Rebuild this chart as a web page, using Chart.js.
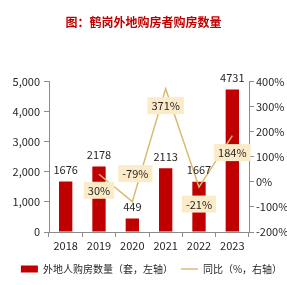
<!DOCTYPE html>
<html><head><meta charset="utf-8">
<script src="https://cdn.jsdelivr.net/npm/chart.js@4/dist/chart.umd.min.js"></script>
<style>html,body{margin:0;padding:0;background:#fff}#wrap{width:287px;height:285px}</style>
</head><body><div id="wrap"><canvas id="c" width="287" height="285"></canvas></div>
<script>
const years = ['2018','2019','2020','2021','2022','2023'];
const buyers = [1676, 2178, 449, 2113, 1667, 4731];
const yoy = [null, 30, -79, 371, -21, 184];
const yoyLabels = [null, '30%', '-79%', '371%', '-21%', '184%'];
const leftTicks = [0, 1000, 2000, 3000, 4000, 5000];
const rightTicks = [-200, -100, 0, 100, 200, 300, 400];

const FONT = '"Noto Sans CJK SC", "Noto Sans", sans-serif';
const RED = '#C00000';
const GOLD = '#D8BC6E';
const BOX = '#FCEBC8';
const AXIS = '#8c8c8c';

const labelPlugin = {
  id: 'valueLabels',
  afterLayout(chart) {
    if (chart.legend) { chart.legend.left += 8; chart.legend.right += 8; }
  },
  afterDatasetsDraw(chart, args, opts) {
    const ctx = chart.ctx;
    ctx.save();
    ctx.font = '11px ' + FONT;
    ctx.textAlign = 'center';
    ctx.textBaseline = 'middle';
    const barMeta = chart.getDatasetMeta(0);
    barMeta.data.forEach((el, i) => {
      ctx.fillStyle = '#262626';
      ctx.fillText(String(buyers[i]), el.x, el.y - 12);
    });
    const lineMeta = chart.getDatasetMeta(1);
    lineMeta.data.forEach((el, i) => {
      if (yoy[i] === null) return;
      const txt = yoyLabels[i];
      const dy = opts.offsets[i];
      const w = ctx.measureText(txt).width + 8;
      const h = 17;
      const cx = el.x + (opts.dx[i] || 0);
      const cy = el.y + dy;
      ctx.fillStyle = BOX;
      ctx.fillRect(cx - w / 2, cy - h / 2, w, h);
      ctx.fillStyle = '#262626';
      ctx.fillText(txt, cx, cy + 0.5);
    });
    ctx.restore();
  }
};

new Chart(document.getElementById('c'), {
  data: {
    labels: years,
    datasets: [
      {
        type: 'bar',
        label: '外地人购房数量（套，左轴）',
        data: buyers,
        backgroundColor: RED,
        yAxisID: 'y',
        barPercentage: 0.4,
        categoryPercentage: 1.0,
        order: 2,
        pointStyle: 'rect'
      },
      {
        type: 'line',
        label: '同比（%，右轴）',
        data: yoy,
        borderColor: GOLD,
        backgroundColor: GOLD,
        borderWidth: 1.5,
        pointRadius: 0,
        tension: 0,
        yAxisID: 'y1',
        order: 1,
        pointStyle: 'line'
      }
    ]
  },
  options: {
    responsive: false,
    animation: false,
    layout: { padding: { left: 0, right: 0, top: 0, bottom: 1 } },
    scales: {
      x: {
        offset: true,
        grid: { display: true, offset: true, drawOnChartArea: false, tickLength: 5, color: AXIS },
        border: { color: AXIS },
        ticks: { color: '#262626', font: { size: 11, family: FONT }, padding: 2 },
        afterFit(s) { s.height = 24; }
      },
      y: {
        position: 'left',
        min: 0, max: 5000,
        afterBuildTicks(s) { s.ticks = leftTicks.map(v => ({ value: v })); },
        grid: { drawOnChartArea: false, tickLength: 5, color: AXIS },
        border: { color: AXIS },
        ticks: { color: '#262626', font: { size: 11, family: FONT }, padding: 4,
          callback: v => v.toLocaleString('en-US') },
        afterFit(s) { s.width = 49; }
      },
      y1: {
        position: 'right',
        min: -200, max: 400,
        afterBuildTicks(s) { s.ticks = rightTicks.map(v => ({ value: v })); },
        grid: { drawOnChartArea: false, tickLength: 5, color: AXIS },
        border: { color: AXIS },
        ticks: { color: '#262626', font: { size: 11, family: FONT }, padding: 2,
          callback: v => v + '%' },
        afterFit(s) { s.width = 38; }
      }
    },
    plugins: {
      title: {
        display: true,
        text: '图：鹤岗外地购房者购房数量',
        color: RED,
        font: { size: 12, weight: 'bold', family: FONT },
        padding: { top: 15, bottom: 52 }
      },
      legend: {
        position: 'bottom',
        labels: {
          usePointStyle: true,
          pointStyleWidth: 17,
          boxHeight: 7,
          color: '#262626',
          font: { size: 10, family: FONT },
          padding: 8,
          sort: (a, b) => a.datasetIndex - b.datasetIndex
        }
      },
      tooltip: { enabled: false },
      valueLabels: { offsets: [0, 16, -28, 17, 17, 17], dx: [0, 0, 3, 0, 0, 0] }
    }
  },
  plugins: [labelPlugin]
});
</script>
</body></html>
